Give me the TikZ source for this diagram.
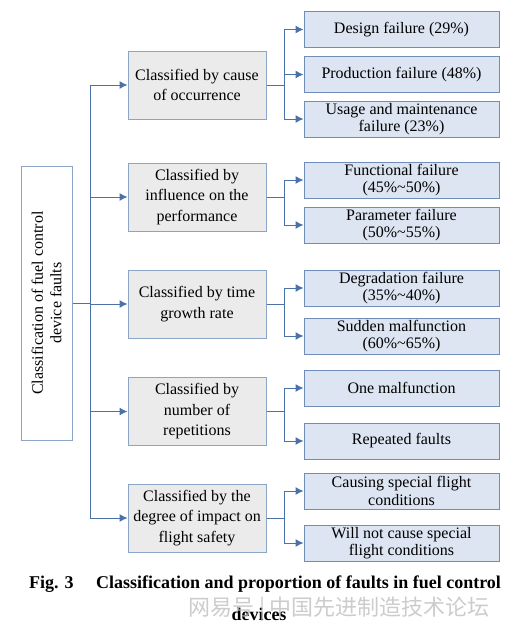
\documentclass[tikz,border=0pt]{standalone}
\usepackage{fontspec}
\setmainfont{Liberation Serif}
\newfontfamily\cjkfont{Noto Sans CJK SC}
\usetikzlibrary{positioning,arrows.meta}

\definecolor{linkblue}{HTML}{4A72A8}
\definecolor{lvlonefill}{HTML}{EBEBEB}
\definecolor{lvlonedraw}{HTML}{8AA5C6}
\definecolor{lvltwofill}{HTML}{DCE5F1}
\definecolor{lvltwodraw}{HTML}{6F8DB8}

\tikzset{
  rootbox/.style={draw=lvlonedraw,fill=white,line width=1pt,rotate=90,
    minimum width=274pt,minimum height=51pt,align=center,font=\fontsize{16}{18.5}\selectfont},
  classbox/.style={draw=lvlonedraw,fill=lvlonefill,line width=1pt,
    minimum width=138pt,minimum height=68pt,align=center,inner sep=1pt,
    font=\fontsize{16}{20.5}\selectfont},
  leafbox/.style={draw=lvltwodraw,fill=lvltwofill,line width=1pt,
    minimum width=195pt,minimum height=36pt,align=center,inner sep=1pt,
    font=\fontsize{16}{17.5}\selectfont},
  link/.style={draw=linkblue,line width=1pt},
  arr/.style={link,-{Latex[length=8pt,width=8pt]}}
}

\begin{document}
\begin{tikzpicture}[x=1pt,y=-1pt]
\useasboundingbox (0,0) rectangle (513,635);

% root
\node[rootbox] (root) at (46.5,303) {Classification of fuel control\\device faults};

% first level
\node[classbox] (cause) at (197,85) {Classified by cause\\of occurrence};
\node[classbox] (perf) at (197,197) {Classified by\\influence on the\\performance};
\node[classbox] (time) at (197,304) {Classified by time\\growth rate};
\node[classbox] (rep) at (197,411.5) {Classified by\\number of\\repetitions};
\node[classbox] (safe) at (197,518) {Classified by the\\degree of impact on\\flight safety};

% second level
\node[leafbox] (design) at (401.5,29.5) {Design failure (29\%)};
\node[leafbox] (prod) at (401.5,74.5) {Production failure (48\%)};
\node[leafbox] (usage) at (401.5,119) {Usage and maintenance\\failure (23\%)};
\node[leafbox] (func) at (401.5,180) {Functional failure\\(45\%\textasciitilde50\%)};
\node[leafbox] (param) at (401.5,225) {Parameter failure\\(50\%\textasciitilde55\%)};
\node[leafbox] (degr) at (401.5,288) {Degradation failure\\(35\%\textasciitilde40\%)};
\node[leafbox] (sudden) at (401.5,336) {Sudden malfunction\\(60\%\textasciitilde65\%)};
\node[leafbox] (once) at (401.5,388) {One malfunction};
\node[leafbox] (repeat) at (401.5,441) {Repeated faults};
\node[leafbox] (causing) at (401.5,491) {Causing special flight\\conditions};
\node[leafbox] (notcause) at (401.5,543) {Will not cause special\\flight conditions};

% trunk
\coordinate (tk) at (90,303);
\coordinate (bx) at (284,0);
\draw[link] (root.south) -- (tk);
\draw[link] (tk |- cause.west) -- (tk |- safe.west);
\foreach \n in {cause,perf,time,rep,safe}
  \draw[arr] (tk |- \n.west) -- (\n.west);

% branches
\foreach \p/\c in {cause/design,cause/prod,cause/usage,perf/func,perf/param,
  time/degr,time/sudden,rep/once,rep/repeat,safe/causing,safe/notcause}
  \draw[arr] (\p.east) -- (\p.east -| bx) |- (\c.west);

% caption
\node[font=\bfseries\fontsize{18}{21}\selectfont] (cap) at (265,584)
  {Fig. 3\hspace{1em} Classification and proportion of faults in fuel control};
\node[font=\bfseries\fontsize{18}{21}\selectfont] (capb) at (259,614) {devices};
\node[font=\cjkfont\fontsize{22}{25}\selectfont,text=black!25,opacity=0.8] (mark) at (339,609)
  {网易号 | 中国先进制造技术论坛};
\end{tikzpicture}
\end{document}
